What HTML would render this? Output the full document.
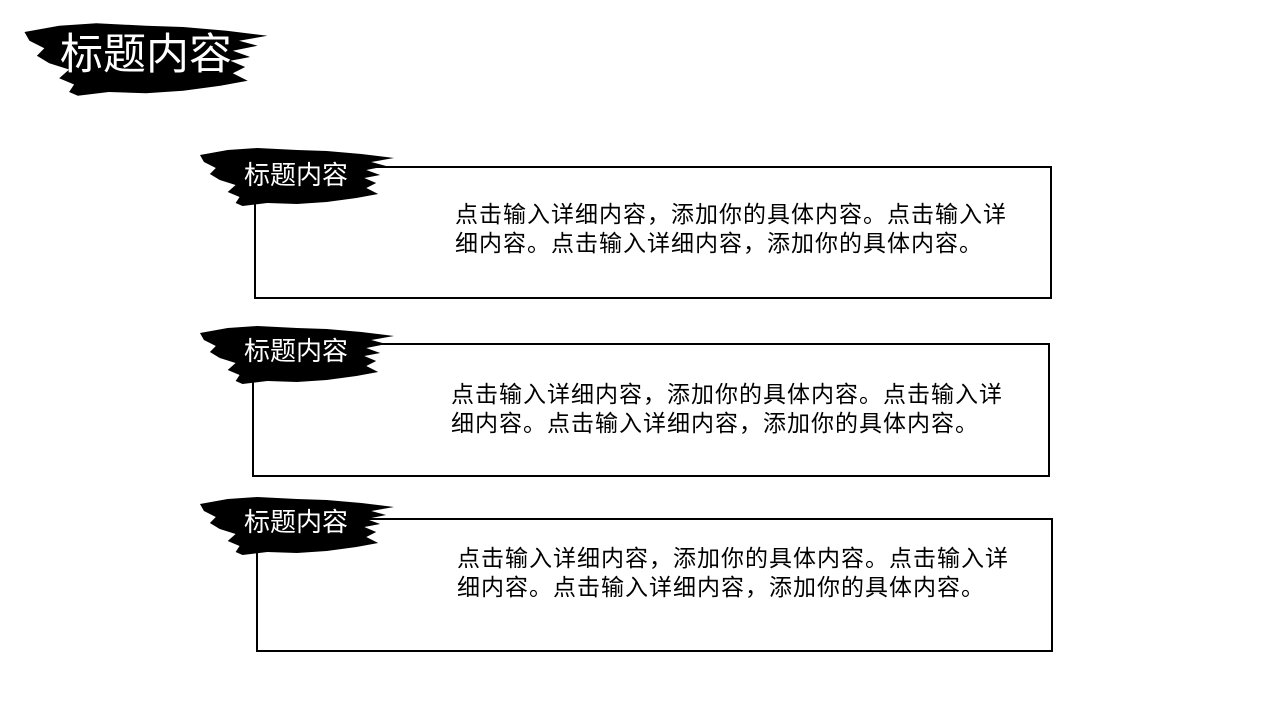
<!DOCTYPE html>
<html><head><meta charset="utf-8"><style>
body{margin:0;width:1280px;height:720px;background:#fff;position:relative;overflow:hidden;font-family:"Liberation Sans","Noto Sans CJK SC",sans-serif}
.box{position:absolute;border:2px solid #000;box-sizing:border-box;background:#fff}
.txt{position:absolute;font-size:23px;line-height:29px;letter-spacing:1px;color:#000;white-space:nowrap}
svg{position:absolute}
.lbl{position:absolute;color:#fff;white-space:nowrap}
</style></head><body>
<svg width="0" height="0"><defs>
<path id="b" d="M2,8 L30,3 L60,1 L100,3 L130,4 L165,7 L198,11 L175,15 L190,19 L170,23 L184,28 L168,31 L180,36 L170,41 L182,47 L160,51 L130,55 L100,57 L70,56 L45,59 L38,56 L42,50 L30,45 L38,38 L22,33 L12,27 L18,21 L6,15 Z"/>
</defs></svg>

<svg style="left:22px;top:22px" width="248" height="75" viewBox="0 0 200 60" preserveAspectRatio="none"><use href="#b" fill="#000"/></svg>
<div class="lbl" style="left:60px;top:29px;font-size:43px;line-height:52px">标题内容</div>

<div class="box" style="left:254px;top:166px;width:798px;height:133px"></div>
<div class="box" style="left:252px;top:343px;width:798px;height:134px"></div>
<div class="box" style="left:256px;top:518px;width:797px;height:134px"></div>

<svg style="left:198px;top:147px" width="198" height="60" viewBox="0 0 200 60" preserveAspectRatio="none"><use href="#b" fill="#000"/></svg>
<svg style="left:198px;top:325px" width="198" height="60" viewBox="0 0 200 60" preserveAspectRatio="none"><use href="#b" fill="#000"/></svg>
<svg style="left:198px;top:496px" width="198" height="60" viewBox="0 0 200 60" preserveAspectRatio="none"><use href="#b" fill="#000"/></svg>

<div class="lbl" style="left:244px;top:159px;font-size:26px;line-height:32px">标题内容</div>
<div class="lbl" style="left:244px;top:335px;font-size:26px;line-height:32px">标题内容</div>
<div class="lbl" style="left:244px;top:506px;font-size:26px;line-height:32px">标题内容</div>

<div class="txt" style="left:455px;top:200px">点击输入详细内容，添加你的具体内容。点击输入详<br>细内容。点击输入详细内容，添加你的具体内容。</div>
<div class="txt" style="left:451px;top:380px">点击输入详细内容，添加你的具体内容。点击输入详<br>细内容。点击输入详细内容，添加你的具体内容。</div>
<div class="txt" style="left:457px;top:544px">点击输入详细内容，添加你的具体内容。点击输入详<br>细内容。点击输入详细内容，添加你的具体内容。</div>
</body></html>
